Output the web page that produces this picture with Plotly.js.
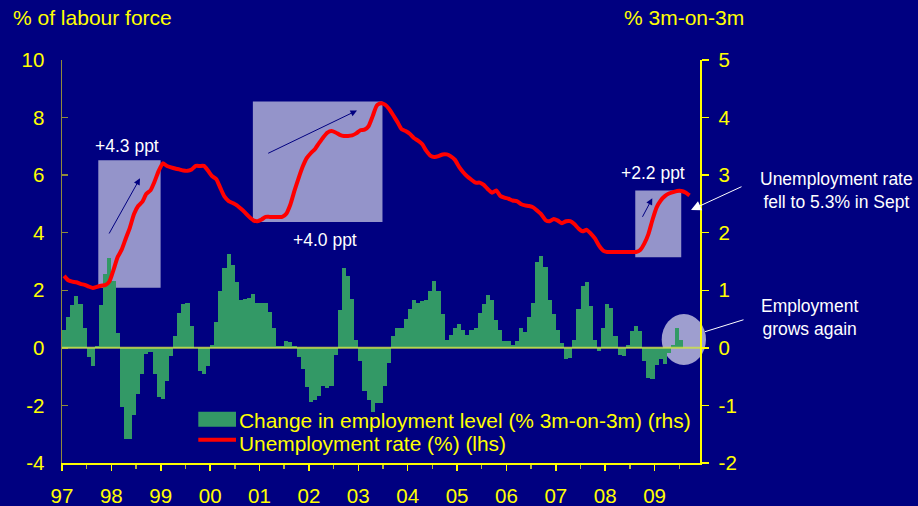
<!DOCTYPE html>
<html>
<head>
<meta charset="utf-8">
<script src="https://cdn.plot.ly/plotly-3.0.1.min.js"></script>
<style>
  html, body { margin: 0; padding: 0; background: #000080; }
  #chart { width: 918px; height: 506px; }
  .barlayer path { shape-rendering: crispEdges !important; }
</style>
</head>
<body>
<div id="chart"></div>
<script>
// ---------------- DATA ----------------
const startYear = 1997;

// Change in employment level (% 3m-on-3m), monthly from Jan 1997 (rhs)
const employmentChange = [
  0.31, 0.53, 0.74, 0.90, 0.76, 0.35, -0.16, -0.32, 0.04, 0.74, 1.28, 1.56,   // 1997
  1.17, 0.25, -1.02, -1.58, -1.58, -1.16, -0.81, -0.46, -0.10, -0.08, -0.46, -0.85, // 1998
  -0.88, -0.57, -0.15, 0.20, 0.61, 0.76, 0.78, 0.38, 0.00, -0.40, -0.46, -0.32, // 1999
  0.05, 0.45, 0.98, 1.38, 1.63, 1.44, 1.14, 0.83, 0.85, 0.86, 0.93, 0.78,     // 2000
  0.78, 0.78, 0.62, 0.34, 0.03, 0.03, 0.12, 0.10, 0.03, -0.16, -0.36, -0.68,  // 2001
  -0.94, -0.91, -0.83, -0.66, -0.69, -0.66, -0.12, 0.65, 1.38, 1.24, 0.85, 0.13, // 2002
  -0.23, -0.75, -0.91, -1.11, -0.96, -0.96, -0.66, -0.27, 0.20, 0.35, 0.35, 0.51, // 2003
  0.67, 0.83, 0.78, 0.82, 0.84, 0.99, 1.16, 0.99, 0.58, 0.13, 0.22, 0.34,     // 2004
  0.42, 0.31, 0.22, 0.31, 0.34, 0.60, 0.76, 0.91, 0.83, 0.48, 0.31, 0.12,     // 2005
  0.12, 0.05, 0.12, 0.34, 0.28, 0.54, 0.78, 1.50, 1.60, 1.40, 0.84, 0.59,     // 2006
  0.31, 0.09, -0.20, -0.17, 0.13, 0.67, 1.07, 1.14, 0.73, 0.13, -0.05, 0.35,  // 2007
  0.77, 0.70, 0.20, -0.13, -0.14, 0.05, 0.30, 0.38, 0.29, -0.23, -0.52, -0.54, // 2008
  -0.30, -0.20, -0.28, -0.09, 0.05, 0.34, 0.13                                  // 2009 (to Jul)
];

// Unemployment rate (%), monthly from Jan 1997 (lhs)
const unemploymentRate = [
  2.50, 2.35, 2.30, 2.28, 2.22, 2.19, 2.13, 2.08, 2.12, 2.16, 2.18, 2.30,     // 1997
  2.70, 3.15, 3.41, 3.80, 4.18, 4.65, 4.93, 5.07, 5.35, 5.47, 5.78, 6.15,     // 1998
  6.41, 6.32, 6.27, 6.23, 6.20, 6.16, 6.15, 6.20, 6.32, 6.32, 6.32, 6.15,     // 1999
  5.96, 5.86, 5.55, 5.25, 5.10, 5.03, 4.95, 4.83, 4.70, 4.55, 4.43, 4.40,     // 2000
  4.46, 4.55, 4.55, 4.55, 4.55, 4.55, 4.66, 4.98, 5.46, 5.90, 6.30, 6.60,     // 2001
  6.77, 6.91, 7.12, 7.32, 7.48, 7.53, 7.48, 7.40, 7.36, 7.36, 7.38, 7.45,     // 2002
  7.56, 7.58, 7.70, 8.05, 8.42, 8.50, 8.45, 8.30, 8.08, 7.85, 7.60, 7.53,     // 2003
  7.44, 7.29, 7.20, 7.08, 6.85, 6.68, 6.63, 6.66, 6.72, 6.72, 6.65, 6.53,     // 2004
  6.29, 6.10, 5.95, 5.84, 5.74, 5.74, 5.66, 5.51, 5.39, 5.47, 5.28, 5.22,     // 2005
  5.18, 5.12, 5.10, 5.00, 4.95, 4.93, 4.88, 4.76, 4.63, 4.44, 4.40, 4.48,     // 2006
  4.42, 4.33, 4.40, 4.40, 4.30, 4.15, 4.05, 4.10, 3.97, 3.80, 3.55, 3.38,     // 2007
  3.33, 3.33, 3.33, 3.33, 3.33, 3.33, 3.33, 3.33, 3.40, 3.62, 3.95, 4.45,     // 2008
  4.88, 5.12, 5.27, 5.36, 5.41, 5.45, 5.45, 5.40, 5.30                        // 2009 (to Sep)
];

const xTickVals = [1997, 1998, 1999, 2000, 2001, 2002, 2003, 2004, 2005, 2006, 2007, 2008, 2009];
const xTickText = ['97', '98', '99', '00', '01', '02', '03', '04', '05', '06', '07', '08', '09'];
const lhsTickVals = [-4, -2, 0, 2, 4, 6, 8, 10];
const lhsTickText = ['-4', '-2', '0', '2', '4', '6', '8', '10'];
const rhsTickVals = [-2, -1, 0, 1, 2, 3, 4, 5];
const rhsTickText = ['-2', '-1', '0', '1', '2', '3', '4', '5'];

const seriesNames = ['Change in employment level (% 3m-on-3m) (rhs)', 'Unemployment rate (%) (lhs)'];

// ---------------- BUILD ----------------
const monthX = (i) => startYear + (i + 0.5) / 12;
const xEmp = employmentChange.map((_, i) => monthX(i));
const xUnemp = unemploymentRate.map((_, i) => monthX(i));

const FONT = 'Liberation Sans, Arial, sans-serif';
const YELLOW = '#ffff00';
const NAVY = '#000080';
const GREEN = '#339966';
const OLIVE = '#8f8a3c';
const HATCH = 'rgba(255,255,255,0.58)';

const traces = [
  {
    type: 'bar', name: seriesNames[0],
    x: xEmp, y: employmentChange, width: 1 / 12,
    xaxis: 'x', yaxis: 'y',
    marker: { color: GREEN, line: { width: 0 } },
    hoverinfo: 'skip'
  },
  {
    type: 'scatter', mode: 'lines', name: seriesNames[1],
    x: xUnemp, y: unemploymentRate,
    xaxis: 'x', yaxis: 'y2',
    line: { color: '#ff0000', width: 4, shape: 'spline', smoothing: 0.5 },
    hoverinfo: 'skip'
  }
];

// pixel helpers for paper coordinates (plot area 62..700 x 60..463)
const px = (p) => (p - 62) / 638;
const py = (p) => (463 - p) / 403;

const layout = {
  width: 918, height: 506,
  margin: { l: 62, r: 218, t: 60, b: 43, pad: 0 },
  paper_bgcolor: NAVY, plot_bgcolor: NAVY,
  showlegend: false,
  bargap: 0,
  font: { family: FONT, color: YELLOW },
  xaxis: {
    range: [1997, 2009.92],
    tickmode: 'array', tickvals: xTickVals, ticktext: xTickText,
    ticks: 'outside', ticklen: 6, tickwidth: 1.5, tickcolor: YELLOW,
    showline: true, linecolor: YELLOW, linewidth: 1.5,
    showgrid: false, zeroline: false,
    tickfont: { family: FONT, size: 20.5, color: YELLOW },
    ticklabelstandoff: 8,
    minor: { tickmode: 'linear', tick0: 1997, dtick: 0.5, ticks: 'outside', ticklen: 4, tickwidth: 1.5, tickcolor: '#b0b040', showgrid: false }
  },
  yaxis: {
    range: [-2, 5], side: 'right', anchor: 'x',
    tickmode: 'array', tickvals: rhsTickVals, ticktext: rhsTickText,
    ticks: 'outside', ticklen: 7, tickwidth: 1.5, tickcolor: YELLOW,
    showline: true, linecolor: YELLOW, linewidth: 1.5,
    showgrid: false, zeroline: false,
    tickfont: { family: FONT, size: 20.5, color: YELLOW },
    ticklabelstandoff: 6
  },
  yaxis2: {
    range: [-4, 10], side: 'left', overlaying: 'y', anchor: 'x',
    tickmode: 'array', tickvals: lhsTickVals, ticktext: lhsTickText,
    ticks: 'inside', ticklen: 6, tickwidth: 1.5, tickcolor: OLIVE,
    showline: true, linecolor: OLIVE, linewidth: 1.5,
    showgrid: false, zeroline: false,
    tickfont: { family: FONT, size: 20.5, color: YELLOW },
    ticklabelstandoff: 12
  },
  shapes: [
    // highlight boxes (rhs units = lhs / 2)
    { type: 'rect', xref: 'x', yref: 'y', x0: 1997.735, x1: 1998.997, y0: 1.045, y1: 3.26, fillcolor: HATCH, line: { width: 0 }, layer: 'below' },
    { type: 'rect', xref: 'x', yref: 'y', x0: 2000.865, x1: 2003.49, y0: 2.185, y1: 4.28, fillcolor: HATCH, line: { width: 0 }, layer: 'below' },
    { type: 'rect', xref: 'x', yref: 'y', x0: 2008.609, x1: 2009.54, y0: 1.575, y1: 2.735, fillcolor: HATCH, line: { width: 0 }, layer: 'below' },
    // circle
    { type: 'circle', xref: 'paper', yref: 'paper', x0: px(661.7), x1: px(706), y0: py(365), y1: py(314), fillcolor: 'rgba(255,255,255,0.62)', line: { width: 0 }, layer: 'below' },
    // zero line
    { type: 'line', xref: 'paper', yref: 'y', x0: 0, x1: 1, y0: 0, y1: 0, line: { color: 'rgba(205,225,75,0.85)', width: 2 }, layer: 'above' },
    // legend swatches
    { type: 'rect', xref: 'paper', yref: 'paper', x0: px(198.3), x1: px(236), y0: py(426.7), y1: py(411.7), fillcolor: GREEN, line: { width: 0 }, layer: 'above' },
    { type: 'line', xref: 'paper', yref: 'paper', x0: px(198.3), x1: px(236), y0: py(439.7), y1: py(439.7), line: { color: '#ff0000', width: 4 }, layer: 'above' }
  ],
  annotations: [
    // axis titles
    { xref: 'paper', yref: 'paper', x: px(11), y: py(17), xanchor: 'left', yanchor: 'middle', showarrow: false,
      text: '% of labour force', font: { family: FONT, size: 21, color: YELLOW } },
    { xref: 'paper', yref: 'paper', x: px(621.5), y: py(17), xanchor: 'left', yanchor: 'middle', showarrow: false,
      text: '% 3m-on-3m', font: { family: FONT, size: 21, color: YELLOW } },
    // legend texts
    { xref: 'paper', yref: 'paper', x: px(237), y: py(420), xanchor: 'left', yanchor: 'middle', showarrow: false,
      text: seriesNames[0], font: { family: FONT, size: 20.9, color: YELLOW } },
    { xref: 'paper', yref: 'paper', x: px(237), y: py(443), xanchor: 'left', yanchor: 'middle', showarrow: false,
      text: seriesNames[1], font: { family: FONT, size: 20.9, color: YELLOW } },
    // box labels
    { xref: 'paper', yref: 'paper', x: px(126.5), y: py(146), xanchor: 'center', yanchor: 'middle', showarrow: false,
      text: '+4.3 ppt', font: { family: FONT, size: 17.5, color: '#ffffff' } },
    { xref: 'paper', yref: 'paper', x: px(325), y: py(240), xanchor: 'center', yanchor: 'middle', showarrow: false,
      text: '+4.0 ppt', font: { family: FONT, size: 17.5, color: '#ffffff' } },
    { xref: 'paper', yref: 'paper', x: px(653), y: py(173), xanchor: 'center', yanchor: 'middle', showarrow: false,
      text: '+2.2 ppt', font: { family: FONT, size: 17.5, color: '#ffffff' } },
    // box arrows
    { xref: 'paper', yref: 'paper', x: px(140), y: py(178.3), ax: -31.7, ay: 56.7, text: '', showarrow: true,
      arrowhead: 2, arrowsize: 1.3, arrowwidth: 1, arrowcolor: NAVY },
    { xref: 'paper', yref: 'paper', x: px(357), y: py(110.5), ax: -90.3, ay: 43.5, text: '', showarrow: true,
      arrowhead: 2, arrowsize: 1.3, arrowwidth: 1, arrowcolor: NAVY },
    { xref: 'paper', yref: 'paper', x: px(652.3), y: py(198.3), ax: -10.6, ay: 20, text: '', showarrow: true,
      arrowhead: 2, arrowsize: 1.3, arrowwidth: 1, arrowcolor: NAVY },
    // right-side notes
    { xref: 'paper', yref: 'paper', x: px(836), y: py(190), xanchor: 'center', yanchor: 'middle', showarrow: false,
      text: 'Unemployment rate<br>fell to 5.3% in Sept', align: 'center', font: { family: FONT, size: 17.5, color: '#ffffff' } },
    { xref: 'paper', yref: 'paper', x: px(691), y: py(210), ax: 52, ay: -24, text: '', showarrow: true,
      arrowhead: 2, arrowsize: 2, arrowwidth: 1, arrowcolor: '#ffffff' },
    { xref: 'paper', yref: 'paper', x: px(810), y: py(317), xanchor: 'center', yanchor: 'middle', showarrow: false,
      text: 'Employment<br>grows again', align: 'center', font: { family: FONT, size: 17.5, color: '#ffffff' } },
    { xref: 'paper', yref: 'paper', x: px(705), y: py(331.7), ax: 40, ay: -12.4, text: '', showarrow: true,
      arrowhead: 0, arrowwidth: 1, arrowcolor: '#ffffff' }
  ]
};

Plotly.newPlot('chart', traces, layout, { displayModeBar: false, staticPlot: true });
</script>
</body>
</html>
